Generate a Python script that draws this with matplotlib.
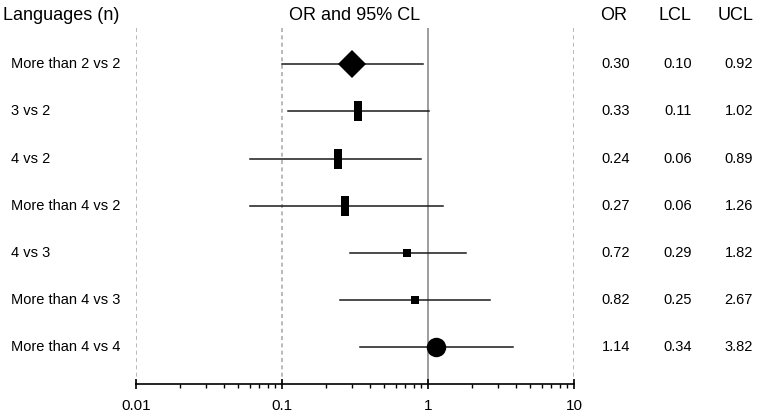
import matplotlib.pyplot as plt
import numpy as np

plt.rcParams['font.family'] = ['Liberation Sans', 'DejaVu Sans']

labels = ['More than 2 vs 2', '3 vs 2', '4 vs 2', 'More than 4 vs 2',
          '4 vs 3', 'More than 4 vs 3', 'More than 4 vs 4']
odds = [0.30, 0.33, 0.24, 0.27, 0.72, 0.82, 1.14]
lcl = [0.10, 0.11, 0.06, 0.06, 0.29, 0.25, 0.34]
ucl = [0.92, 1.02, 0.89, 1.26, 1.82, 2.67, 3.82]

# marker look for each row (shape, size in points)
rect = [(-0.18, -0.5), (0.18, -0.5), (0.18, 0.5), (-0.18, 0.5), (-0.18, -0.5)]
shapes = ['D', rect, rect, rect, 's', 's', 'o']
sizes = [14.5, 14.5, 14.5, 14.5, 6, 6, 14]

fig = plt.figure(figsize=(7.58, 4.15), dpi=100)
ax = fig.add_axes([136 / 758, 31 / 415, 438 / 758, 356 / 415])

for x in [0.01, 0.1, 10]:
    ax.axvline(x, color='#a6a6a6', lw=1.1, ls=(0, (2.6, 2.2)), zorder=1)
ax.axvline(1, color='#8c8c8c', lw=1.2, zorder=1)

ypos = np.arange(len(labels))
for i in ypos:
    ax.plot([lcl[i], ucl[i]], [i, i], color='#1a1a1a', lw=1.1, zorder=2)
    ax.plot(odds[i], i, marker=shapes[i], ms=sizes[i], color='black',
            mec='black', mew=0, ls='none', zorder=3)

ax.set_xscale('log')
ax.set_xlim(0.01, 10)
ax.set_ylim(6.78, -0.77)
ax.set_yticks([])
for s in ['left', 'right', 'top']:
    ax.spines[s].set_visible(False)
ax.spines['bottom'].set_linewidth(1.2)
ax.set_xticks([0.01, 0.1, 1, 10])
ax.set_xticklabels(['0.01', '0.1', '1', '10'])
ax.tick_params(axis='x', which='major', direction='inout', length=7, width=1.2,
               labelsize=11, pad=7)
ax.tick_params(axis='x', which='minor', direction='out', length=3, width=1.0)

tr = ax.get_yaxis_transform()
w = 438.0
for i in ypos:
    ax.text((11 - 136) / w, i, labels[i], transform=tr,
            ha='left', va='center', fontsize=10.5)
    ax.text((630 - 136) / w, i, '%.2f' % odds[i], transform=tr,
            ha='right', va='center', fontsize=10.5)
    ax.text((692 - 136) / w, i, '%.2f' % lcl[i], transform=tr,
            ha='right', va='center', fontsize=10.5)
    ax.text((753 - 136) / w, i, '%.2f' % ucl[i], transform=tr,
            ha='right', va='center', fontsize=10.5)

hy = 1 - 16 / 415
fig.text(3 / 758, hy, 'Languages (n)', ha='left', va='center', fontsize=13)
fig.text(355 / 758, hy, 'OR and 95% CL', ha='center', va='center', fontsize=13)
fig.text(614 / 758, hy, 'OR', ha='center', va='center', fontsize=13)
fig.text(675 / 758, hy, 'LCL', ha='center', va='center', fontsize=13)
fig.text(736 / 758, hy, 'UCL', ha='center', va='center', fontsize=13)

fig.savefig('out.png', dpi=100)
